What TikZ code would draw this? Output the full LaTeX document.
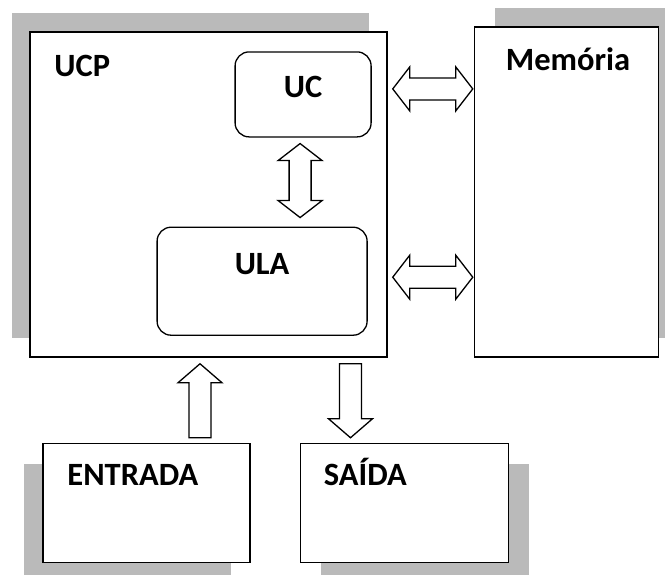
\documentclass[tikz,border=0pt]{standalone}
\usepackage{fontspec}
\setmainfont{Carlito}
\usetikzlibrary{positioning, calc, shadows}
\tikzset{
	caixa/.style={draw, rectangle, line width=1.5pt, fill=white, inner sep=0pt},
	bloco/.style={draw, rectangle, rounded corners=14pt, line width=1.3pt, fill=white, inner sep=0pt},
	sombra/.style 2 args={drop shadow={shadow xshift=#1, shadow yshift=#2, opacity=1, fill=black!27}},
	rotulo/.style={font=\fontsize{32.5}{38}\selectfont\bfseries, inner sep=0pt},
	seta/.style={draw, line width=1.3pt, fill=white, line join=miter},
}
% setas largas (contorno), da ponta/base #1 ate a ponta #2
\newcommand{\setadupla}[2]{%
	\draw[seta] let \p1=(#1), \p2=(#2), \n1={veclen(\x2-\x1,\y2-\y1)}, \n2={atan2(\y2-\y1,\x2-\x1)} in
		[shift={(\p1)}, rotate=\n2] (0pt,0pt) -- (17pt,22pt) -- (17pt,11pt) -- (\n1-17pt,11pt) -- (\n1-17pt,22pt)
		-- (\n1,0pt) -- (\n1-17pt,-22pt) -- (\n1-17pt,-11pt) -- (17pt,-11pt) -- (17pt,-22pt) -- cycle;}
\newcommand{\setasimples}[2]{%
	\draw[seta] let \p1=(#1), \p2=(#2), \n1={veclen(\x2-\x1,\y2-\y1)}, \n2={atan2(\y2-\y1,\x2-\x1)} in
		[shift={(\p1)}, rotate=\n2] (0pt,11pt) -- (\n1-19pt,11pt) -- (\n1-19pt,22pt)
		-- (\n1,0pt) -- (\n1-19pt,-22pt) -- (\n1-19pt,-11pt) -- (0pt,-11pt) -- cycle;}

\begin{document}
\begin{tikzpicture}[x=1pt, y=-1pt]
	\useasboundingbox (0,0) rectangle (665,574);

	\node (ucp) [caixa, sombra={-18pt}{19pt}, minimum width=357pt, minimum height=325pt] at (208.5,194.5) {};
	\node (mem) [caixa, sombra={20pt}{19pt}, minimum width=184pt, minimum height=330pt, right=86pt of ucp, yshift=2.5pt] {};

	\node (uc) [bloco, minimum width=136pt, minimum height=85pt, below left=20pt and 16pt of ucp.north east] {};
	\node (ula) [bloco, minimum width=210pt, minimum height=108pt, below=89pt of uc, xshift=-41pt] {};

	\node (ent) [caixa, sombra={-19pt}{-20pt}, minimum width=207pt, minimum height=119pt, below right=85pt and 13pt of ucp.south west] {};
	\node (sai) [caixa, sombra={20pt}{-20pt}, minimum width=208pt, minimum height=119pt, right=49pt of ent] {};

	\node (tucp) [rotulo, anchor=base west] at ([xshift=25pt, yshift=-45pt]ucp.north west) {UCP};
	\node (tuc) [rotulo, anchor=base] at ([yshift=-3.5pt]uc.center) {UC};
	\node (tula) [rotulo, anchor=base] at ([yshift=7pt]ula.center) {ULA};
	\node (tmem) [rotulo, anchor=base] at ([xshift=1.5pt, yshift=-44pt]mem.north) {Memória};
	\node (tent) [rotulo, anchor=base west] at ([xshift=25pt, yshift=-43pt]ent.north west) {ENTRADA};
	\node (tsai) [rotulo, anchor=base west] at ([xshift=24pt, yshift=-43pt]sai.north west) {SAÍDA};

	\coordinate (a1) at ([xshift=5pt, yshift=5.5pt]ucp.east |- uc.center);
	\coordinate (b1) at ([xshift=-1pt, yshift=5.5pt]mem.west |- uc.center);
	\coordinate (a2) at ([xshift=5pt, yshift=4pt]ucp.east |- ula.center);
	\coordinate (b2) at ([xshift=-1pt, yshift=4pt]mem.west |- ula.center);
	\coordinate (a3) at ([xshift=-3pt, yshift=-6pt]uc.south);
	\coordinate (b3) at ([xshift=-3pt, yshift=9pt]uc.south |- ula.north);
	\coordinate (a4) at ([xshift=53.5pt, yshift=5pt]ent.north);
	\coordinate (b4) at ([xshift=53.5pt, yshift=-6pt]ent.north |- ucp.south);
	\coordinate (a5) at ([xshift=-54pt, yshift=-6pt]sai.north |- ucp.south);
	\coordinate (b5) at ([xshift=-54pt, yshift=5pt]sai.north);

	\setadupla{a1}{b1}
	\setadupla{a2}{b2}
	\setadupla{a3}{b3}
	\setasimples{a4}{b4}
	\setasimples{a5}{b5}
\end{tikzpicture}
\end{document}
